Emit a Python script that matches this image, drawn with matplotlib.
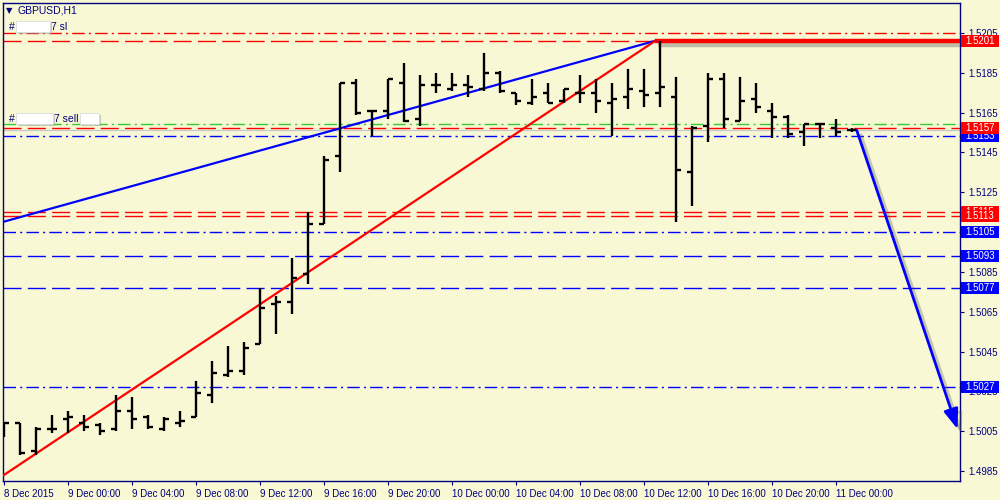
import numpy as np
import matplotlib
matplotlib.use("Agg")
import matplotlib.pyplot as plt
import matplotlib.patheffects as pe
from matplotlib.patches import Rectangle
from matplotlib.transforms import blended_transform_factory

plt.rcParams['lines.scale_dashes'] = False
plt.rcParams['font.family'] = ['Liberation Sans', 'DejaVu Sans']

# GBPUSD H1 bars, first bar = 8 Dec 2015 20:00
opens = [1.5007, 1.5009, 1.4995, 1.5006, 1.5011, 1.5009, 1.5008, 1.5006, 1.5015, 1.5012,
         1.5006, 1.5009, 1.5012, 1.5023, 1.5033, 1.5035, 1.5049, 1.5069, 1.5070, 1.5084,
         1.5109, 1.5143, 1.5180, 1.5166, 1.5166, 1.5180, 1.5162, 1.5179, 1.5177, 1.5179,
         1.5177, 1.5185, 1.5175, 1.5170, 1.5175, 1.5171, 1.5175, 1.5175, 1.5170, 1.5173,
         1.5176, 1.5175, 1.5173, 1.5135, 1.5158, 1.5182, 1.5161, 1.5172, 1.5166, 1.5163,
         1.5155, 1.5159, 1.5157, 1.5156]
highs = [1.5009, 1.5009, 1.5007, 1.5013, 1.5015, 1.5013, 1.5009, 1.5023, 1.5022, 1.5013,
         1.5012, 1.5015, 1.5030, 1.5040, 1.5048, 1.5050, 1.5077, 1.5073, 1.5092, 1.5115,
         1.5143, 1.5180, 1.5182, 1.5166, 1.5182, 1.5190, 1.5184, 1.5185, 1.5185, 1.5184,
         1.5195, 1.5186, 1.5175, 1.5182, 1.5180, 1.5177, 1.5184, 1.5182, 1.5180, 1.5187,
         1.5187, 1.5201, 1.5183, 1.5158, 1.5185, 1.5185, 1.5183, 1.5180, 1.5170, 1.5164,
         1.5159, 1.5159, 1.5162, 1.5157]
lows = [1.5002, 1.4993, 1.4993, 1.5004, 1.5004, 1.5005, 1.5003, 1.5005, 1.5006, 1.5006,
        1.5005, 1.5007, 1.5012, 1.5019, 1.5032, 1.5033, 1.5049, 1.5054, 1.5064, 1.5079,
        1.5109, 1.5135, 1.5164, 1.5153, 1.5162, 1.5160, 1.5158, 1.5175, 1.5176, 1.5173,
        1.5176, 1.5175, 1.5169, 1.5169, 1.5170, 1.5170, 1.5170, 1.5165, 1.5153, 1.5167,
        1.5168, 1.5168, 1.5110, 1.5118, 1.5150, 1.5157, 1.5161, 1.5165, 1.5152, 1.5152,
        1.5148, 1.5152, 1.5153, 1.5155]
closes = [1.5009, 1.4994, 1.5006, 1.5006, 1.5012, 1.5007, 1.5005, 1.5015, 1.5011, 1.5007,
          1.5011, 1.5010, 1.5024, 1.5034, 1.5035, 1.5047, 1.5067, 1.5070, 1.5082, 1.5109,
          1.5141, 1.5180, 1.5165, 1.5166, 1.5182, 1.5161, 1.5179, 1.5179, 1.5179, 1.5178,
          1.5185, 1.5176, 1.5171, 1.5173, 1.5170, 1.5177, 1.5175, 1.5171, 1.5172, 1.5177,
          1.5174, 1.5178, 1.5136, 1.5157, 1.5182, 1.5162, 1.5171, 1.5168, 1.5163, 1.5154,
          1.5159, 1.5159, 1.5155, 1.5156]

xtick_pos = list(range(0, 54, 4))
xtick_labels = ["8 Dec 2015", "9 Dec 00:00", "9 Dec 04:00", "9 Dec 08:00", "9 Dec 12:00",
                "9 Dec 16:00", "9 Dec 20:00", "10 Dec 00:00", "10 Dec 04:00", "10 Dec 08:00",
                "10 Dec 12:00", "10 Dec 16:00", "10 Dec 20:00", "11 Dec 00:00"]
ytick_vals = [1.4985, 1.5005, 1.5025, 1.5045, 1.5065, 1.5085, 1.5105, 1.5125, 1.5145,
              1.5165, 1.5185, 1.5205]

# horizontal levels: price, colour, style
level_prices = [1.5205, 1.5201, 1.5159, 1.5157, 1.5153, 1.5115, 1.5113, 1.5105, 1.5093, 1.5077, 1.5027]
level_colors = ['red', 'red', '#33cc33', 'red', 'blue', 'red', 'red', 'blue', 'blue', 'blue', 'blue']
level_styles = ['dashdot', 'dash', 'dashdot', 'dash', 'dashdot', 'dash', 'dash', 'dashdot', 'dash', 'dash', 'dashdot']
bid_price = 1.5156

# price tags on the right scale (later ones drawn on top)
tag_prices = [1.5201, 1.5153, 1.5157, 1.5115, 1.5113, 1.5105, 1.5093, 1.5077, 1.5027]
tag_colors = ['red', 'blue', 'red', 'red', 'red', 'blue', 'blue', 'blue', 'blue']

# trend lines (bar index, price)
blue_trend_x = [-0.1, 40.7]
blue_trend_y = [1.5110, 1.5201]
red_trend_x = [-0.1, 40.7]
red_trend_y = [1.49825, 1.5201]
sl_line_x = [40.7, 59.75]
sl_line_y = [1.5201, 1.5201]
arrow_start = (53.3, 1.5156)
arrow_end = (59.6, 1.5006)

BG = '#F8F8D5'
NAVY = '#000080'

fig = plt.figure(figsize=(10, 5), dpi=100, facecolor=BG)
ax = fig.add_axes([0.003, 0.038, 0.957, 0.956], facecolor=BG)

styles = {'dash': (0, (13, 4.5)), 'dashdot': (0, (9, 3, 1.5, 3))}
for p, c, s in zip(level_prices, level_colors, level_styles):
    ax.axhline(p, color=c, lw=1.0, linestyle=styles[s], zorder=1)
ax.axhline(bid_price, color='#c8c8c8', lw=0.9, zorder=0.9)

shadow = [pe.SimpleLineShadow(offset=(2, -3), shadow_color='#555555', alpha=0.35), pe.Normal()]
ax.plot(sl_line_x, sl_line_y, color='red', lw=3.2, solid_capstyle='butt', zorder=3, path_effects=shadow)
ax.plot(blue_trend_x, blue_trend_y, color='blue', lw=1.6, zorder=3)
ax.plot(red_trend_x, red_trend_y, color='red', lw=1.6, zorder=3)

# OHLC bars
x = np.arange(len(opens))
tw = 0.32
ax.vlines(x, lows, highs, color='black', lw=1.7, zorder=4)
ax.hlines(opens, x - tw, x, color='black', lw=1.7, zorder=4)
ax.hlines(closes, x, x + tw, color='black', lw=1.7, zorder=4)

ax.annotate('', xy=arrow_end, xytext=arrow_start,
            arrowprops=dict(arrowstyle='-|>,head_length=0.6,head_width=0.22', color='blue', lw=2.0,
                            mutation_scale=20, shrinkA=0, shrinkB=0,
                            path_effects=[pe.SimpleLineShadow(offset=(3, -3), shadow_color='#555555', alpha=0.3), pe.Normal()]),
            zorder=5)

ax.set_xlim(-0.06, 59.75)
ax.set_ylim(1.4980, 1.5220)

ax.yaxis.tick_right()
ax.set_yticks(ytick_vals)
ax.set_yticklabels([f"{v:.4f}" for v in ytick_vals])
ax.set_xticks(xtick_pos)
ax.set_xticklabels(xtick_labels)
for lbl in ax.get_xticklabels():
    lbl.set_ha('left')
ax.tick_params(axis='both', colors=NAVY, labelcolor=NAVY, labelsize=7, length=3, width=0.8, direction='out')
ax.tick_params(axis='y', pad=3)
ax.tick_params(axis='x', pad=3)
for sp in ax.spines.values():
    sp.set_color(NAVY)
    sp.set_linewidth(1.0)

trans = blended_transform_factory(ax.transAxes, ax.transData)
tag_h = 0.0006
for i, (p, c) in enumerate(zip(tag_prices, tag_colors)):
    ax.add_patch(Rectangle((1.0012, p - tag_h / 2), 0.0395, tag_h, transform=trans,
                           fc=c, ec='none', clip_on=False, zorder=10 + 2 * i))
    ax.text(1.021, p, f"{p:.4f}", transform=trans, color='white', fontsize=7,
            va='center', ha='center', zorder=11 + 2 * i, clip_on=False)

# header text
fig.text(0.006, 0.979, "\u25bc", color=NAVY, fontsize=6, va='center', family='DejaVu Sans')
fig.text(0.018, 0.979, "GBPUSD,H1", color=NAVY, fontsize=7.5, va='center')

fig.text(0.009, 0.946, "#", color=NAVY, fontsize=7.5, va='center')
fig.text(0.051, 0.946, "7 sl", color=NAVY, fontsize=7.5, va='center')
fig.text(0.009, 0.762, "#", color=NAVY, fontsize=7.5, va='center')
fig.text(0.054, 0.762, "7 sell", color=NAVY, fontsize=7.5, va='center')
for bx, by, bw in [(0.016, 0.937, 0.034), (0.016, 0.753, 0.037), (0.080, 0.753, 0.019)]:
    fig.patches.append(Rectangle((bx + 0.002, by - 0.004), bw, 0.02, transform=fig.transFigure,
                                 fc='#999999', ec='none', alpha=0.5, zorder=9))
    fig.patches.append(Rectangle((bx, by), bw, 0.02, transform=fig.transFigure,
                                 fc='white', ec='#dddddd', lw=0.6, zorder=10))

fig.savefig('out.png', dpi=100, facecolor=BG)
